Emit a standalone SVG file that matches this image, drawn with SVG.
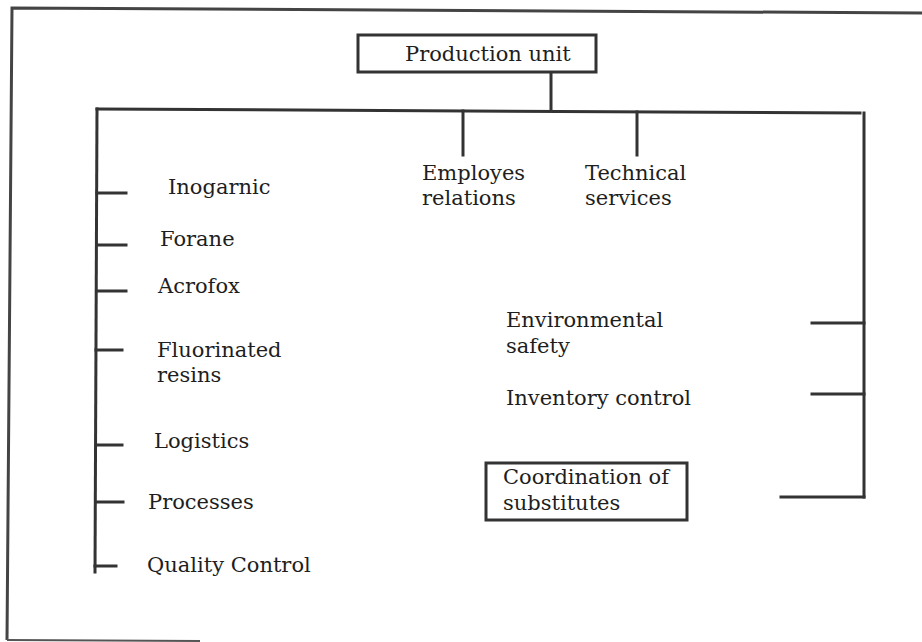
<svg xmlns="http://www.w3.org/2000/svg" width="922" height="642" viewBox="0 0 922 642">
<style>
.ln{stroke:#333;stroke-width:3;fill:none;stroke-linecap:square}
.fr{stroke:#444;stroke-width:3;fill:none}
.bx{stroke:#333;stroke-width:3;fill:#fff}
text{font-family:"DejaVu Serif","Liberation Serif",serif;font-size:21px;fill:#1e1e1e}
</style>
<rect width="922" height="642" fill="#fff"/>
<g id="frame">
<path class="fr" d="M922,13 L12,8 L7,640"/>
<path d="M7,640 L200,641" stroke="#555" stroke-width="2" fill="none"/>
</g>
<g id="connectors">
<path class="ln" d="M551,72 L551,110"/>
<path class="ln" d="M97,109 L860,113"/>
<path class="ln" d="M463,111 L463,155"/>
<path class="ln" d="M637,112 L637,155"/>
<path class="ln" d="M97,109 L95,572"/>
<path class="ln" d="M864,113 L864,497"/>
<path class="ln" d="M97,193 L126,193"/>
<path class="ln" d="M97,245 L126,245"/>
<path class="ln" d="M97,291 L126,291"/>
<path class="ln" d="M96,350 L122,350"/>
<path class="ln" d="M96,445 L122,445"/>
<path class="ln" d="M96,502 L123,502"/>
<path class="ln" d="M95,566 L116,566"/>
<path class="ln" d="M812,323 L864,323"/>
<path class="ln" d="M812,394 L864,394"/>
<path class="ln" d="M781,497 L864,497"/>
</g>
<g id="production-unit">
<rect class="bx" x="358" y="35" width="238" height="37"/>
<text x="405" y="61">Production unit</text>
</g>
<g id="employes-relations">
<text x="422" y="180">Employes</text>
<text x="422" y="205">relations</text>
</g>
<g id="technical-services">
<text x="585" y="180">Technical</text>
<text x="585" y="205">services</text>
</g>
<g id="inogarnic"><text x="168" y="194">Inogarnic</text></g>
<g id="forane"><text x="160" y="246">Forane</text></g>
<g id="acrofox"><text x="158" y="293">Acrofox</text></g>
<g id="fluorinated-resins">
<text x="157" y="357">Fluorinated</text>
<text x="157" y="382">resins</text>
</g>
<g id="logistics"><text x="154" y="448">Logistics</text></g>
<g id="processes"><text x="148" y="509">Processes</text></g>
<g id="quality-control"><text x="147" y="572">Quality Control</text></g>
<g id="environmental-safety">
<text x="506" y="327">Environmental</text>
<text x="506" y="353">safety</text>
</g>
<g id="inventory-control"><text x="506" y="405">Inventory control</text></g>
<g id="coordination-of-substitutes">
<rect class="bx" x="486" y="463" width="201" height="57"/>
<text x="503" y="484">Coordination of</text>
<text x="503" y="510">substitutes</text>
</g>
</svg>
